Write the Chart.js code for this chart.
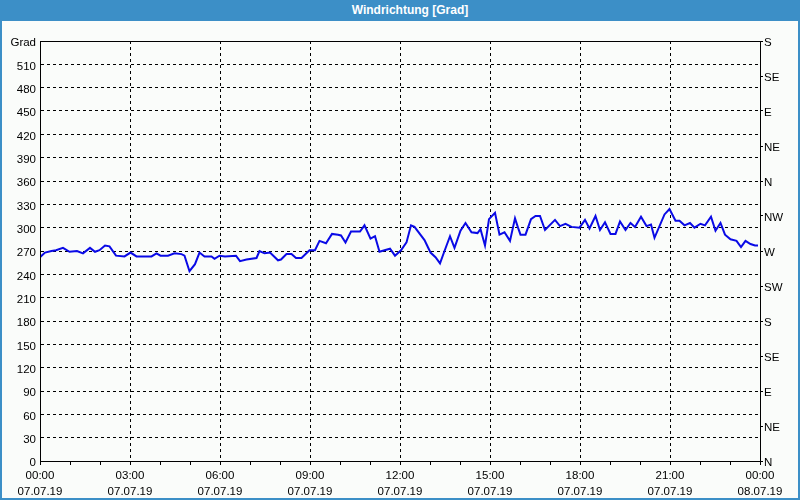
<!DOCTYPE html>
<html>
<head>
<meta charset="utf-8">
<script src="https://cdn.jsdelivr.net/npm/chart.js@4/dist/chart.umd.min.js"></script>
<style>
  body { margin: 0; background: #fafcfa; }
  #frame { position: absolute; left: 0; top: 0; width: 800px; height: 500px; box-sizing: border-box;
           border: 2px solid #3c8fc7; border-top: none; pointer-events: none; }
  #titlebar { position: absolute; left: 0; top: 0; width: 800px; height: 21px; background: #3c8fc7;
              color: #fff; font: bold 12px "Liberation Sans", Arial, sans-serif; line-height: 21px;
              text-align: center; box-sizing: border-box; padding-left: 20px; }
  #canvas { position: absolute; left: 0; top: 0; }
</style>
</head>
<body>
<canvas id="canvas" width="800" height="500"></canvas>
<div id="titlebar">Windrichtung [Grad]</div>
<div id="frame"></div>
<script>
// minutes since 00:00 on 07.07.19
const timeMinutes = [
    0, 10, 23, 32, 46, 59, 74, 86, 100, 110, 119, 130, 139, 152, 169, 181, 193, 223, 233, 241,
    256, 269, 283, 289, 299, 310, 319, 329, 343, 349, 359, 370, 392, 400, 413, 433, 439, 449, 460, 476,
    482, 493, 503, 512, 523, 539, 550, 559, 572, 584, 596, 602, 611, 622, 640, 649, 661, 670, 679, 689,
    700, 710, 722, 733, 742, 749, 769, 781, 791, 800, 809, 820, 829, 841, 851, 863, 875, 881, 890, 898,
    910, 919, 929, 940, 950, 956, 961, 971, 982, 991, 1000, 1010, 1030, 1040, 1051, 1063, 1079, 1090, 1099, 1111,
    1120, 1130, 1141, 1151, 1160, 1171, 1181, 1190, 1202, 1213, 1222, 1229, 1249, 1259, 1271, 1279, 1289, 1300, 1309, 1321,
    1330, 1342, 1351, 1361, 1370, 1381, 1393, 1402, 1411, 1421, 1430, 1436
];
// wind direction in degrees
const windDir = [
    262, 268, 270, 271, 274, 269, 270, 267, 274, 269, 271, 277, 276, 264, 263, 268, 263, 263, 267, 264,
    264, 267, 266, 264, 244, 253, 268, 263, 263, 260, 264, 263, 264, 257, 259, 261, 270, 267, 268, 258,
    259, 266, 266, 261, 261, 271, 271, 283, 280, 292, 291, 290, 281, 295, 295, 303, 286, 289, 269, 271,
    273, 264, 271, 281, 303, 301, 284, 268, 262, 254, 270, 289, 274, 296, 306, 294, 293, 298, 277, 311,
    319, 291, 294, 283, 312, 300, 291, 291, 311, 315, 315, 297, 310, 302, 305, 301, 300, 310, 299, 315,
    297, 307, 292, 292, 308, 297, 306, 301, 314, 302, 304, 287, 317, 324, 309, 309, 303, 306, 300, 305,
    303, 314, 296, 306, 291, 285, 283, 275, 283, 279, 277, 277
];

const compassLabels = ['N', 'NE', 'E', 'SE', 'S', 'SW', 'W', 'NW', 'N', 'NE', 'E', 'SE', 'S'];
const dayLabels = ['07.07.19', '08.07.19'];

const tickFont = { family: '"Liberation Sans", Arial, sans-serif', size: 11.5 };

// solid frame round the plot area
const plotFrame = {
    id: 'plotFrame',
    afterDraw(chart) {
        const a = chart.chartArea;
        const ctx = chart.ctx;
        ctx.save();
        ctx.strokeStyle = '#000';
        ctx.lineWidth = 1;
        ctx.strokeRect(a.left + 0.5, a.top + 0.5, a.right - a.left, a.bottom - a.top);
        ctx.restore();
    }
};

const ctx = document.getElementById('canvas').getContext('2d');
const myChart = new Chart(ctx, {
    type: 'line',
    data: {
        datasets: [{
            label: 'Windrichtung',
            data: timeMinutes.map((t, i) => ({ x: t, y: windDir[i] })),
            borderColor: '#0a0ae6',
            borderWidth: 2,
            pointRadius: 0,
            tension: 0,
            fill: false
        }]
    },
    options: {
        responsive: false,
        animation: false,
        layout: { padding: { top: 41, left: 0, right: 0, bottom: 0 } },
        plugins: {
            legend: { display: false },
            tooltip: { enabled: false }
        },
        scales: {
            x: {
                type: 'linear',
                min: 0,
                max: 1440,
                afterFit: function (scale) { scale.height = 39; },
                afterBuildTicks: function (scale) {
                    scale.ticks = [];
                    for (let v = 0; v <= 1440; v += 60) scale.ticks.push({ value: v });
                },
                ticks: {
                    autoSkip: false,
                    maxRotation: 0,
                    padding: 3,
                    color: '#000',
                    font: { family: tickFont.family, size: tickFont.size, lineHeight: 1.39 },
                    callback: function (value) {
                        if (value % 180 !== 0) return '';
                        const hh = String((value / 60) % 24).padStart(2, '0');
                        return [hh + ':00', dayLabels[value < 1440 ? 0 : 1]];
                    }
                },
                grid: {
                    color: (c) => (c.tick && c.tick.value % 180 === 0) ? '#000' : 'rgba(0,0,0,0)',
                    tickColor: '#000',
                    tickLength: 4,
                    lineWidth: 1
                },
                border: { display: true, color: '#000', width: 1, dash: [3, 3] }
            },
            y: {
                position: 'left',
                min: 0,
                max: 540,
                afterFit: function (scale) { scale.width = 40; },
                ticks: {
                    stepSize: 30,
                    padding: 4,
                    labelOffset: 2,
                    color: '#000',
                    font: tickFont,
                    callback: function (value) {
                        return value === 540 ? 'Grad' : value;
                    }
                },
                grid: { color: '#000', drawTicks: false, lineWidth: 1 },
                border: { display: true, color: '#000', width: 1, dash: [3, 3] }
            },
            y2: {
                position: 'right',
                min: 0,
                max: 540,
                afterFit: function (scale) { scale.width = 40; },
                ticks: {
                    stepSize: 45,
                    padding: 1,
                    labelOffset: 2,
                    color: '#000',
                    font: tickFont,
                    callback: function (value) {
                        return compassLabels[Math.round(value / 45)];
                    }
                },
                grid: { drawOnChartArea: false, color: '#000', tickLength: 3 },
                border: { display: true, color: '#000', width: 1 }
            }
        }
    },
    plugins: [plotFrame]
});
</script>
</body>
</html>
